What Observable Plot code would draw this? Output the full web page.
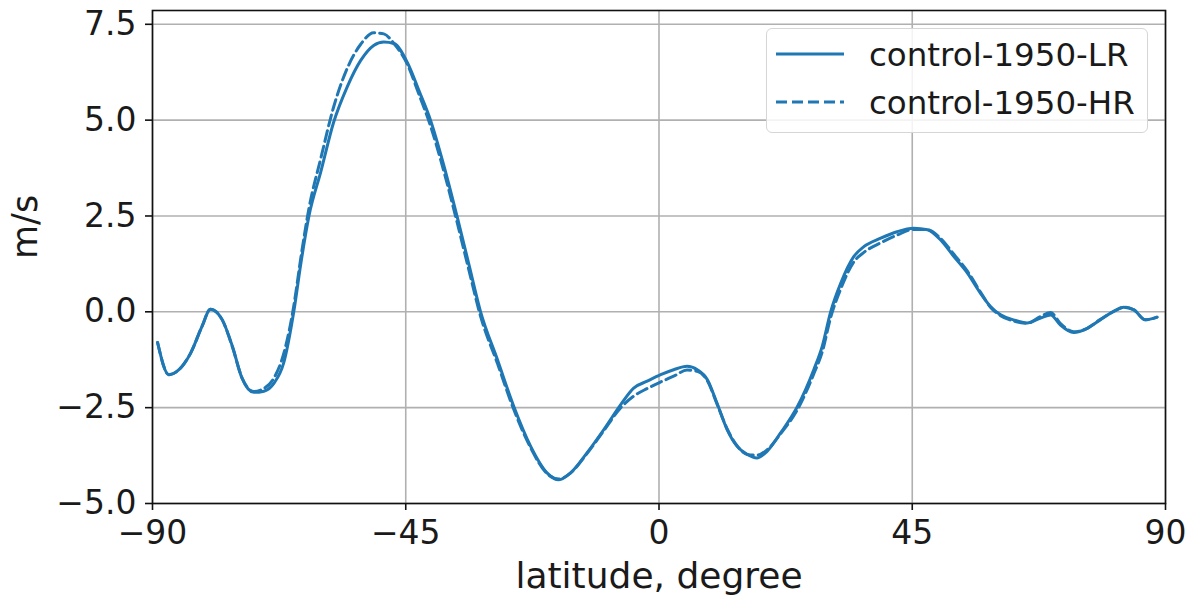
<!DOCTYPE html>
<html>
<head>
<meta charset="utf-8">
<script src="https://cdn.jsdelivr.net/npm/d3@7"></script>
<script src="https://cdn.jsdelivr.net/npm/@observablehq/plot@0.6"></script>
<style>
  html, body { margin: 0; padding: 0; background: #fff; }
  #wrap { position: relative; width: 1195px; height: 597px; }
  #legend { position: absolute; left: 766px; top: 28px; width: 382px; height: 105px;
            box-sizing: border-box; border: 1.5px solid #d6d6d6; border-radius: 6px;
            background: rgba(255,255,255,0.85); }
  #legend svg { position: absolute; left: 0; top: 0; }
</style>
</head>
<body>
<div id="wrap"></div>
<script>
// Latitudes (degrees) and zonal-mean values (m/s)
const latLR = [-89.1,-87.1,-85.3,-83.2,-81.2,-79.7,-77.6,-75.8,-74.1,-72.0,-70.2,-68.4,-66.7,-64.9,-63.6,-62.2,-60.1,-57.8,-55.4,-53.0,-50.7,-48.9,-47.1,-44.7,-42.6,-40.6,-38.2,-35.9,-33.8,-31.7,-28.7,-25.8,-22.8,-19.9,-17.8,-15.7,-12.8,-9.8,-6.8,-4.5,-2.1,0.3,2.6,5.0,6.8,8.6,10.3,12.1,13.9,15.7,17.4,19.2,21.6,24.6,27.5,29.0,30.5,32.3,34.6,36.4,39.4,42.3,45.3,47.7,50.0,52.4,54.8,57.1,58.9,60.7,63.0,65.4,67.8,69.6,71.3,73.7,76.1,78.4,80.8,82.6,84.4,86.4,88.5];
const valLR = [-0.80,-1.64,-1.51,-1.07,-0.38,0.07,-0.21,-0.90,-1.73,-2.10,-2.07,-1.86,-1.34,0.0,1.3,2.5,3.65,4.95,5.87,6.56,6.95,7.04,7.00,6.5,5.75,5.0,3.8,2.5,1.25,0.0,-1.25,-2.47,-3.51,-4.2,-4.38,-4.2,-3.68,-3.07,-2.42,-1.99,-1.81,-1.64,-1.51,-1.42,-1.51,-1.77,-2.38,-3.07,-3.51,-3.72,-3.81,-3.64,-3.16,-2.47,-1.51,-0.9,0.0,0.75,1.44,1.7,1.92,2.09,2.18,2.14,1.88,1.44,1.01,0.49,0.14,-0.08,-0.21,-0.29,-0.16,-0.08,-0.34,-0.54,-0.43,-0.21,0.01,0.12,0.05,-0.21,-0.14];
const latHR = latLR;
const valHR = [-0.80,-1.64,-1.51,-1.07,-0.38,0.07,-0.21,-0.92,-1.72,-2.08,-2.0,-1.72,-1.1,0.15,1.45,2.7,4.0,5.35,6.35,6.98,7.28,7.25,7.0,6.45,5.65,4.85,3.65,2.35,1.1,-0.12,-1.35,-2.55,-3.55,-4.22,-4.36,-4.2,-3.7,-3.1,-2.5,-2.2,-2.0,-1.83,-1.68,-1.52,-1.55,-1.8,-2.4,-3.05,-3.5,-3.72,-3.74,-3.6,-3.18,-2.55,-1.62,-1.05,-0.15,0.6,1.3,1.55,1.8,2.0,2.15,2.14,1.92,1.5,1.06,0.52,0.12,-0.1,-0.24,-0.3,-0.12,-0.02,-0.3,-0.52,-0.43,-0.2,0.01,0.12,0.05,-0.21,-0.14];
const seriesNames = ["control-1950-LR", "control-1950-HR"];
const xTicks = [-90, -45, 0, 45, 90];
const yTicks = [-5.0, -2.5, 0.0, 2.5, 5.0, 7.5];
const xLabel = "latitude, degree";
const yLabel = "m/s";

const lr = latLR.map((d, i) => ({lat: d, v: valLR[i]}));
const hr = latHR.map((d, i) => ({lat: d, v: valHR[i]}));

const minus = s => s.replace("-", "\u2212");
const font = "DejaVu Sans, sans-serif";
const blue = "#1f77b4";

const chart = Plot.plot({
  width: 1195,
  height: 597,
  marginLeft: 152,
  marginRight: 30,
  marginTop: 10,
  marginBottom: 94,
  style: {fontFamily: font, fontSize: "32px", color: "#1a1a1a", background: "white"},
  x: {domain: [-90, 90]},
  y: {domain: [-5, 7.86]},
  marks: [
    Plot.gridX(xTicks, {stroke: "#b0b0b0", strokeOpacity: 1, strokeWidth: 1.6}),
    Plot.gridY(yTicks, {stroke: "#b0b0b0", strokeOpacity: 1, strokeWidth: 1.6}),
    Plot.line(lr, {x: "lat", y: "v", stroke: blue, strokeWidth: 3, curve: "monotone-x"}),
    Plot.line(hr, {x: "lat", y: "v", stroke: blue, strokeWidth: 3, strokeDasharray: "11,5", curve: "monotone-x"}),
    Plot.frame({stroke: "#111", strokeWidth: 1.6}),
    Plot.axisX(xTicks, {tickSize: 7, tickPadding: 10, fontSize: 33, label: null,
      tickFormat: d => minus(String(d)), stroke: "#111", strokeWidth: 1.6}),
    Plot.axisY(yTicks, {tickSize: 7, tickPadding: 9, fontSize: 33, label: null,
      tickFormat: d => minus(d.toFixed(1)), stroke: "#111", strokeWidth: 1.6}),
    Plot.text([xLabel], {frameAnchor: "bottom", dy: 73, lineAnchor: "middle", fontSize: 36, fill: "#1a1a1a"}),
    Plot.text([yLabel], {frameAnchor: "left", dx: -127, dy: 2, rotate: -90, lineAnchor: "middle", fontSize: 35, fill: "#1a1a1a"})
  ]
});

const wrap = document.getElementById("wrap");
wrap.appendChild(chart);

// Legend (inside the axes, upper right)
const legend = document.createElement("div");
legend.id = "legend";
const ns = "http://www.w3.org/2000/svg";
const lsvg = document.createElementNS(ns, "svg");
lsvg.setAttribute("width", 382);
lsvg.setAttribute("height", 105);
const rows = [{name: seriesNames[0], dash: null, y: 25}, {name: seriesNames[1], dash: "11,5", y: 73}];
rows.forEach(r => {
  const ln = document.createElementNS(ns, "line");
  ln.setAttribute("x1", 9); ln.setAttribute("x2", 77);
  ln.setAttribute("y1", r.y); ln.setAttribute("y2", r.y);
  ln.setAttribute("stroke", blue); ln.setAttribute("stroke-width", 3);
  if (r.dash) ln.setAttribute("stroke-dasharray", r.dash);
  lsvg.appendChild(ln);
  const tx = document.createElementNS(ns, "text");
  tx.setAttribute("x", 102); tx.setAttribute("y", r.y + 12);
  tx.setAttribute("font-family", font); tx.setAttribute("font-size", 32.5);
  tx.setAttribute("fill", "#1a1a1a");
  tx.textContent = r.name;
  lsvg.appendChild(tx);
});
legend.appendChild(lsvg);
wrap.appendChild(legend);
</script>
</body>
</html>
